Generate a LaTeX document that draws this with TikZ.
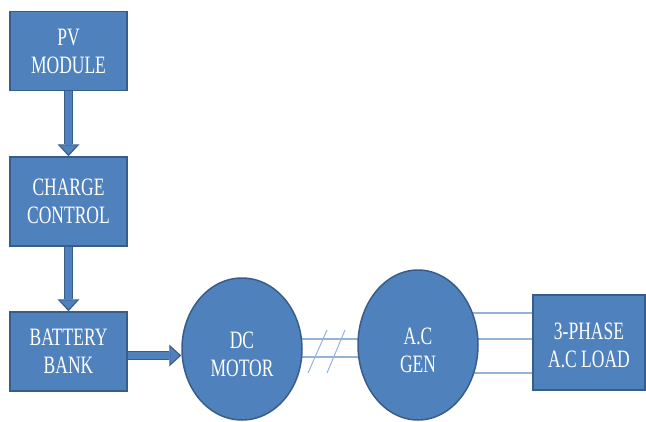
\documentclass[tikz,border=0pt]{standalone}
\usepackage{fontspec}
\setmainfont{Liberation Serif}[FakeStretch=0.7]
\usetikzlibrary{shapes.geometric,arrows.meta,backgrounds}
\definecolor{boxblue}{HTML}{4F81BD}
\definecolor{edgeblue}{HTML}{385D8A}
\definecolor{wireblue}{HTML}{95B3D7}
\newcommand{\lowered}[2]{\raisebox{-#1}[\height][\depth]{#2}}
\begin{document}
\begin{tikzpicture}[x=1pt,y=-1pt]
        \tikzstyle{block}=[rectangle, draw=edgeblue, line width=1.5pt, fill=boxblue, text=white, align=center, inner sep=0pt, font=\fontsize{25}{28}\selectfont]
        \tikzstyle{machine}=[block, ellipse]
        \tikzstyle{flowarrow}=[line width=9pt, draw=edgeblue, -{Triangle[width=22pt,length=12pt,line width=0pt]},
          postaction={draw=boxblue, line width=6.4pt, shorten >=2pt, -{Triangle[width=16.5pt,length=8.8pt,line width=0pt]}}]
        \tikzstyle{wire}=[draw=wireblue, line width=1.3pt]
        \useasboundingbox (0,0) rectangle (646,421);
        \node[block, minimum width=117pt, minimum height=79pt] (pv) at (68.5,51) {PV\\MODULE};
        \node[block, minimum width=117pt, minimum height=89pt] (charge) at (68.5,201.5) {CHARGE\\CONTROL};
        \node[block, minimum width=117pt, minimum height=79pt] (battery) at (68.5,351.5) {BATTERY\\BANK};
        \node[machine, minimum width=120pt, minimum height=142pt] (motor) at (242,349) {\lowered{5pt}{DC}\\\lowered{5pt}{MOTOR}};
        \node[machine, minimum width=120pt, minimum height=150pt] (gen) at (418,345) {\lowered{5pt}{A.C}\\\lowered{5pt}{GEN}};
        \node[block, minimum width=112pt, minimum height=95pt] (load) at (589,342.5) {\lowered{3pt}{3-PHASE}\\\lowered{3pt}{A.C LOAD}};
        % power flow
        \draw[flowarrow] (pv) -- (charge);
        \draw[flowarrow] (charge) -- (battery);
        \coordinate (ba) at ([yshift=-4pt]battery.east);
        \draw[flowarrow] (ba) -- (ba -| motor.west);
        % shaft and phase wires
        \coordinate (sa) at ([yshift=10pt]motor.center);
        \coordinate (sb) at ([yshift=-8pt]motor.center);
        \coordinate (pa) at ([yshift=29.5pt]load.west);
        \coordinate (pb) at ([yshift=3.5pt]load.west);
        \coordinate (pc) at ([yshift=-30.5pt]load.west);
        \begin{scope}[on background layer]
          \draw[wire] (sa) -- (sa -| gen.center);
          \draw[wire] (sb) -- (sb -| gen.center);
          \draw[wire] (pa) -- (pa -| gen.center);
          \draw[wire] (pb) -- (pb -| gen.center);
          \draw[wire] (pc) -- (pc -| gen.center);
        \end{scope}
        \coordinate (k1a) at (308,373);
        \coordinate (k1b) at (327,330);
        \coordinate (k2a) at (327,373);
        \coordinate (k2b) at (345,330);
        \draw[wire, line width=1pt] (k1a) -- (k1b);
        \draw[wire, line width=1pt] (k2a) -- (k2b);
\end{tikzpicture}
\end{document}
